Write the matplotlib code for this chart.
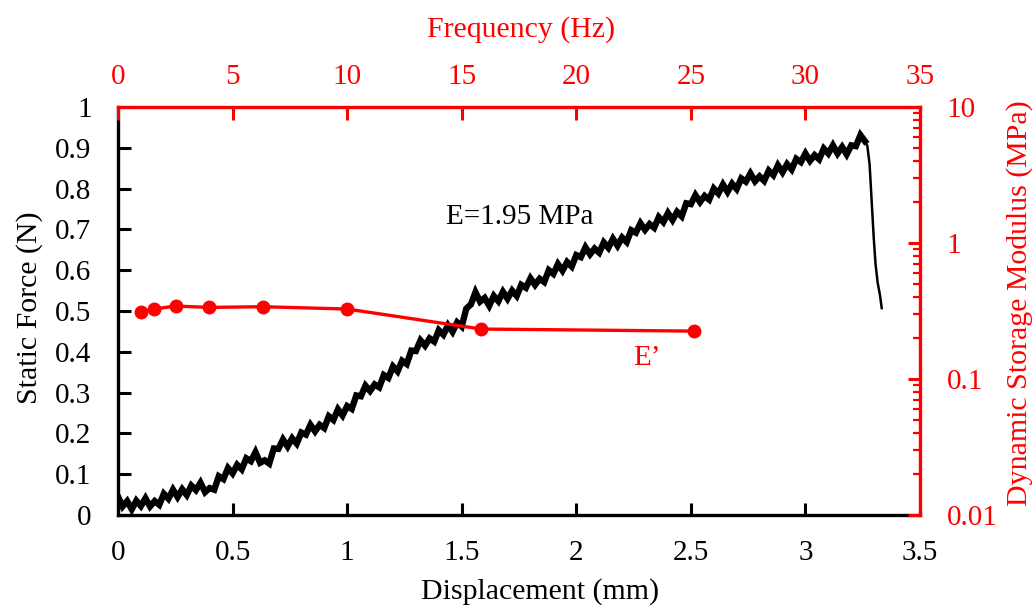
import matplotlib
matplotlib.use("Agg")
import matplotlib.pyplot as plt
from matplotlib.ticker import FixedLocator, LogLocator, NullFormatter, FuncFormatter

plt.rcParams["font.family"] = ["Liberation Serif", "DejaVu Serif"]
plt.rcParams["font.size"] = 21

RED = "#ff0000"

# Static loading: force vs displacement (loading ramp, then failure drop)
disp_ramp = [
    0.00, 0.02, 0.04, 0.06, 0.08, 0.10, 0.12, 0.14, 0.16, 0.18,
    0.20, 0.22, 0.24, 0.26, 0.28, 0.30, 0.32, 0.34, 0.36, 0.38,
    0.40, 0.42, 0.44, 0.46, 0.48, 0.50, 0.52, 0.54, 0.56, 0.58,
    0.60, 0.62, 0.64, 0.66, 0.68, 0.70, 0.72, 0.74, 0.76, 0.78,
    0.80, 0.82, 0.84, 0.86, 0.88, 0.90, 0.92, 0.94, 0.96, 0.98,
    1.00, 1.02, 1.04, 1.06, 1.08, 1.10, 1.12, 1.14, 1.16, 1.18,
    1.20, 1.22, 1.24, 1.26, 1.28, 1.30, 1.32, 1.34, 1.36, 1.38,
    1.40, 1.42, 1.44, 1.46, 1.48, 1.50, 1.52, 1.54, 1.56, 1.58,
    1.60, 1.62, 1.64, 1.66, 1.68, 1.70, 1.72, 1.74, 1.76, 1.78,
    1.80, 1.82, 1.84, 1.86, 1.88, 1.90, 1.92, 1.94, 1.96, 1.98,
    2.00, 2.02, 2.04, 2.06, 2.08, 2.10, 2.12, 2.14, 2.16, 2.18,
    2.20, 2.22, 2.24, 2.26, 2.28, 2.30, 2.32, 2.34, 2.36, 2.38,
    2.40, 2.42, 2.44, 2.46, 2.48, 2.50, 2.52, 2.54, 2.56, 2.58,
    2.60, 2.62, 2.64, 2.66, 2.68, 2.70, 2.72, 2.74, 2.76, 2.78,
    2.80, 2.82, 2.84, 2.86, 2.88, 2.90, 2.92, 2.94, 2.96, 2.98,
    3.00, 3.02, 3.04, 3.06, 3.08, 3.10, 3.12, 3.14, 3.16, 3.18,
    3.20, 3.22, 3.24, 3.26,
]
force_ramp = [
    0.045, 0.021, 0.034, 0.014, 0.035, 0.022, 0.041, 0.021, 0.034, 0.025,
    0.052, 0.040, 0.062, 0.044, 0.063, 0.049, 0.072, 0.061, 0.079, 0.056,
    0.066, 0.062, 0.095, 0.088, 0.115, 0.102, 0.123, 0.112, 0.139, 0.132,
    0.154, 0.128, 0.134, 0.126, 0.163, 0.162, 0.185, 0.168, 0.188, 0.175,
    0.202, 0.197, 0.221, 0.205, 0.221, 0.213, 0.242, 0.233, 0.259, 0.244,
    0.267, 0.260, 0.293, 0.291, 0.317, 0.304, 0.320, 0.313, 0.343, 0.336,
    0.364, 0.352, 0.378, 0.370, 0.403, 0.402, 0.428, 0.415, 0.433, 0.425,
    0.453, 0.442, 0.465, 0.449, 0.472, 0.462, 0.506, 0.516, 0.546, 0.523,
    0.532, 0.513, 0.537, 0.524, 0.547, 0.530, 0.550, 0.537, 0.564, 0.557,
    0.580, 0.564, 0.579, 0.571, 0.600, 0.591, 0.615, 0.599, 0.620, 0.609,
    0.637, 0.632, 0.656, 0.639, 0.653, 0.643, 0.668, 0.655, 0.677, 0.660,
    0.680, 0.669, 0.698, 0.692, 0.715, 0.699, 0.713, 0.704, 0.730, 0.718,
    0.740, 0.723, 0.743, 0.732, 0.764, 0.762, 0.784, 0.767, 0.782, 0.773,
    0.800, 0.788, 0.810, 0.792, 0.812, 0.799, 0.825, 0.817, 0.837, 0.818,
    0.830, 0.819, 0.844, 0.833, 0.857, 0.840, 0.860, 0.847, 0.873, 0.865,
    0.886, 0.868, 0.882, 0.872, 0.898, 0.886, 0.906, 0.886, 0.902, 0.884,
    0.906, 0.904, 0.931, 0.916,
]
disp_drop = [3.26, 3.270, 3.280, 3.290, 3.298, 3.306, 3.315, 3.325, 3.333]
force_drop = [0.916, 0.905, 0.860, 0.760, 0.680, 0.615, 0.570, 0.540, 0.507]

# Dynamic storage modulus E' vs frequency
freq_hz = [1.0, 1.58, 2.51, 3.98, 6.31, 10.0, 15.85, 25.12]
storage_mpa = [0.309, 0.327, 0.344, 0.336, 0.340, 0.327, 0.233, 0.225]

x_ticks = [0, 0.5, 1, 1.5, 2, 2.5, 3, 3.5]
y_ticks = [0, 0.1, 0.2, 0.3, 0.4, 0.5, 0.6, 0.7, 0.8, 0.9, 1]
f_ticks = [0, 5, 10, 15, 20, 25, 30, 35]

W, H = 1036, 608
fig = plt.figure(figsize=(W / 100, H / 100), dpi=100)
pos = [118 / W, 1 - 515 / H, (920 - 118) / W, (515 - 107) / H]

# Primary axes: displacement / force
ax = fig.add_axes(pos)
ax.plot(disp_ramp, force_ramp, color="black", lw=4.6, solid_joinstyle="miter")
ax.plot(disp_drop, force_drop, color="black", lw=1.8)
ax.set_xlim(0, 3.5)
ax.set_ylim(0, 1)
ax.xaxis.set_major_locator(FixedLocator(x_ticks))
ax.yaxis.set_major_locator(FixedLocator(y_ticks))
ax.xaxis.set_major_formatter(FuncFormatter(lambda v, p: f"{v:g}"))
ax.yaxis.set_major_formatter(FuncFormatter(lambda v, p: f"{v:g}"))
ax.tick_params(axis="both", direction="in", length=9, width=2.2, colors="black",
               labelsize=21)
ax.tick_params(axis="x", pad=18)
ax.tick_params(axis="y", pad=19)
for s in ("top", "right"):
    ax.spines[s].set_visible(False)
for s in ("left", "bottom"):
    ax.spines[s].set_linewidth(2.4)
    ax.spines[s].set_color("black")

ax.text(1.43, 0.73, "E=1.95 MPa", fontsize=21, color="black", va="center", ha="left")

# Secondary axes: frequency (top) / storage modulus (right, log)
ax2 = fig.add_axes(pos, facecolor="none")
ax2.plot(freq_hz, storage_mpa, color=RED, lw=2.4, marker="o", ms=9,
         markerfacecolor=RED, markeredgecolor=RED)
ax2.set_xlim(0, 35)
ax2.set_yscale("log")
ax2.set_ylim(0.01, 10)
ax2.xaxis.tick_top()
ax2.yaxis.tick_right()
ax2.xaxis.set_major_locator(FixedLocator(f_ticks))
ax2.yaxis.set_major_locator(LogLocator(base=10, numticks=10))
ax2.yaxis.set_minor_locator(LogLocator(base=10, subs=range(2, 10), numticks=20))
ax2.yaxis.set_minor_formatter(NullFormatter())
ax2.yaxis.set_major_formatter(FuncFormatter(lambda v, p: f"{v:g}"))
ax2.tick_params(axis="both", which="major", direction="in", length=9, width=2.2,
                colors=RED, labelsize=21)
ax2.tick_params(axis="y", which="minor", direction="in", length=5, width=1.6,
                colors=RED)
ax2.tick_params(axis="x", pad=12)
ax2.tick_params(axis="y", pad=19)
for s in ("left", "bottom"):
    ax2.spines[s].set_visible(False)
for s in ("top", "right"):
    ax2.spines[s].set_linewidth(2.4)
    ax2.spines[s].set_color(RED)

ax2.text(22.5, 0.127, "E\u2019", fontsize=21, color=RED, va="baseline", ha="left")

# Axis titles
fig.text(540 / W, 1 - 592 / H, "Displacement (mm)", ha="center", va="center",
         fontsize=21.5, color="black")
fig.text(30 / W, 1 - 308 / H, "Static Force (N)", ha="center", va="center",
         rotation=90, fontsize=21.5, color="black")
fig.text(521 / W, 1 - 30 / H, "Frequency (Hz)", ha="center", va="center",
         fontsize=21.5, color=RED)
fig.text(1020 / W, 1 - 303 / H, "Dynamic Storage Modulus (MPa)", ha="center",
         va="center", rotation=90, fontsize=21.5, color=RED)

fig.savefig("out.png", dpi=100)
